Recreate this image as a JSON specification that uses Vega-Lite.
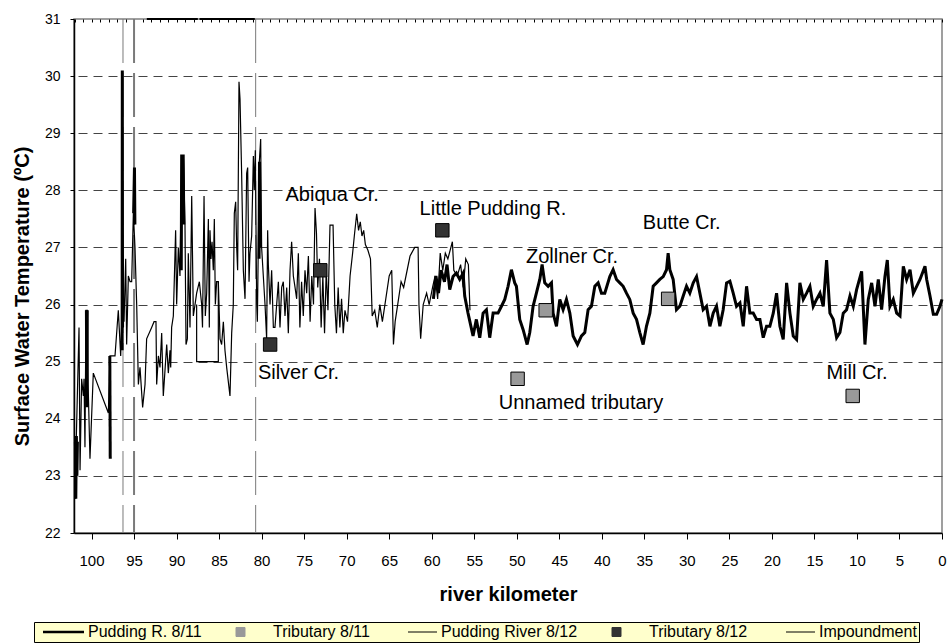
{
 "$schema": "https://vega.github.io/schema/vega-lite/v6.json",
 "width": 868, "height": 514,
 "autosize": {"type": "none"},
 "padding": {"left": 74, "top": 19, "right": 6, "bottom": 111},
 "background": "white",
 "config": {"font": "Liberation Sans", "view": {"stroke": "#808080", "strokeWidth": 1.5}},
 "datasets": {
  "damsThin": [{"k": 96.3}, {"k": 80.7}],
  "damThick": [{"k": 95.0}],
  "imp": [{"g":1,"k":93.5,"t":31},{"g":1,"k":87.5,"t":31},{"g":2,"k":87.3,"t":31},{"g":2,"k":80.8,"t":31}],
  "trib811": [{"name":"Zollner Cr.","k":46.6,"t":25.9},{"name":"Unnamed tributary","k":49.9,"t":24.7},{"name":"Butte Cr.","k":32.2,"t":26.1},{"name":"Mill Cr.","k":10.5,"t":24.4}],
  "trib812": [{"name":"Silver Cr.","k":79.0,"t":25.3},{"name":"Abiqua Cr.","k":73.1,"t":26.6},{"name":"Little Pudding R.","k":58.75,"t":27.3}],
  "labels": [{"name":"Abiqua Cr.","k":71.7,"t":27.92},{"name":"Little Pudding R.","k":52.8,"t":27.68},{"name":"Zollner Cr.","k":43.5,"t":26.84},{"name":"Butte Cr.","k":30.6,"t":27.43},{"name":"Unnamed tributary","k":42.45,"t":24.28},{"name":"Mill Cr.","k":10.0,"t":24.81},{"name":"Silver Cr.","k":75.67,"t":24.81}],
  "r812": [
{"g":1,"k":102.0,"t":23.6},{"g":1,"k":101.9,"t":22.6},{"g":1,"k":101.8,"t":23.6},{"g":1,"k":101.47,"t":25.6},{"g":1,"k":101.35,"t":23.1},{"g":1,"k":101.16,"t":24.7},{"g":1,"k":100.96,"t":24.4},{"g":1,"k":100.88,"t":24.7},{"g":1,"k":100.77,"t":23.5},{"g":1,"k":100.65,"t":25.9},{"g":1,"k":100.49,"t":25.9},{"g":1,"k":100.4,"t":24.6},{"g":1,"k":100.18,"t":23.3},{"g":1,"k":99.79,"t":24.8},{"g":1,"k":98.02,"t":24.1},{"g":1,"k":97.83,"t":25.1},{"g":1,"k":97.24,"t":25.1},{"g":1,"k":96.85,"t":25.9},{"g":1,"k":96.57,"t":25.1},{"g":1,"k":96.38,"t":26.0},{"g":1,"k":96.18,"t":25.7},{"g":1,"k":95.98,"t":26.8},{"g":1,"k":95.87,"t":25.3},{"g":1,"k":95.67,"t":26.5},{"g":1,"k":95.47,"t":26.4},{"g":1,"k":95.28,"t":26.4},{"g":1,"k":95.08,"t":27.6},{"g":1,"k":94.89,"t":27.0},{"g":1,"k":94.69,"t":26.0},{"g":1,"k":94.49,"t":24.6},{"g":1,"k":94.30,"t":24.9},{"g":1,"k":93.99,"t":24.2},{"g":1,"k":93.71,"t":24.6},{"g":1,"k":93.52,"t":25.4},{"g":1,"k":92.93,"t":25.6},{"g":1,"k":92.65,"t":25.7},{"g":1,"k":92.42,"t":25.7},{"g":1,"k":92.34,"t":24.6},{"g":1,"k":92.14,"t":25.1},{"g":1,"k":91.95,"t":24.9},{"g":1,"k":91.75,"t":25.5},{"g":1,"k":91.56,"t":24.4},{"g":1,"k":91.16,"t":25.3},{"g":1,"k":90.97,"t":24.8},{"g":1,"k":90.77,"t":25.2},{"g":1,"k":90.69,"t":24.9},{"g":1,"k":90.58,"t":25.6},{"g":1,"k":90.38,"t":25.8},{"g":1,"k":90.11,"t":27.3},{"g":1,"k":89.99,"t":26.0},{"g":1,"k":89.79,"t":27.0},{"g":1,"k":89.60,"t":26.5},{"g":1,"k":89.40,"t":28.6},{"g":1,"k":89.20,"t":28.6},{"g":1,"k":89.01,"t":27.4},{"g":1,"k":88.89,"t":25.3},{"g":1,"k":88.73,"t":25.4},{"g":1,"k":88.62,"t":26.9},{"g":1,"k":88.42,"t":25.6},{"g":1,"k":88.22,"t":27.9},{"g":1,"k":88.03,"t":25.8},{"g":1,"k":87.83,"t":26.0},{"g":1,"k":87.64,"t":26.2},{"g":1,"k":87.32,"t":26.4},{"g":1,"k":87.05,"t":26.0},{"g":1,"k":86.95,"t":25.6},{"g":1,"k":86.77,"t":27.9},{"g":1,"k":86.62,"t":25.8},{"g":1,"k":86.46,"t":26.2},{"g":1,"k":86.26,"t":27.5},{"g":1,"k":86.15,"t":25.6},{"g":1,"k":86.07,"t":27.3},{"g":1,"k":85.95,"t":26.8},{"g":1,"k":85.83,"t":27.1},{"g":1,"k":85.68,"t":26.6},{"g":1,"k":85.56,"t":27.5},{"g":1,"k":85.44,"t":26.0},{"g":1,"k":85.29,"t":26.4},{"g":1,"k":85.09,"t":26.4},{"g":1,"k":84.89,"t":25.4},{"g":1,"k":84.70,"t":25.3},{"g":1,"k":84.50,"t":25.7},{"g":1,"k":84.31,"t":25.2},{"g":1,"k":84.11,"t":24.9},{"g":1,"k":83.72,"t":24.4},{"g":1,"k":83.52,"t":25.5},{"g":1,"k":83.33,"t":26.0},{"g":1,"k":83.21,"t":27.6},{"g":1,"k":83.05,"t":27.8},{"g":1,"k":82.93,"t":27.0},{"g":1,"k":82.82,"t":26.6},{"g":1,"k":82.66,"t":29.9},{"g":1,"k":82.54,"t":29.6},{"g":1,"k":82.35,"t":28.3},{"g":1,"k":82.15,"t":26.6},{"g":1,"k":81.95,"t":26.1},{"g":1,"k":81.76,"t":28.3},{"g":1,"k":81.64,"t":28.4},{"g":1,"k":81.48,"t":26.4},{"g":1,"k":81.37,"t":26.9},{"g":1,"k":81.17,"t":27.2},{"g":1,"k":80.97,"t":28.6},{"g":1,"k":80.86,"t":28.0},{"g":1,"k":80.74,"t":28.7},{"g":1,"k":80.58,"t":26.0},{"g":1,"k":80.50,"t":25.7},{"g":1,"k":80.27,"t":28.5},{"g":1,"k":80.11,"t":28.9},{"g":1,"k":80.00,"t":27.0},{"g":1,"k":79.80,"t":26.5},{"g":1,"k":79.60,"t":26.0},{"g":1,"k":79.41,"t":25.4},{"g":1,"k":79.29,"t":27.3},{"g":1,"k":79.21,"t":26.7},{"g":1,"k":79.01,"t":26.0},{"g":1,"k":78.82,"t":26.6},{"g":1,"k":78.62,"t":25.6},{"g":1,"k":78.43,"t":25.6},{"g":1,"k":78.23,"t":26.0},{"g":1,"k":78.03,"t":26.4},{"g":1,"k":77.84,"t":25.6},{"g":1,"k":77.64,"t":26.3},{"g":1,"k":77.45,"t":26.4},{"g":1,"k":77.25,"t":25.8},{"g":1,"k":77.05,"t":26.3},{"g":1,"k":76.86,"t":25.5},{"g":1,"k":76.66,"t":26.6},{"g":1,"k":76.47,"t":27.1},{"g":1,"k":76.27,"t":26.5},{"g":1,"k":76.07,"t":26.3},{"g":1,"k":75.88,"t":26.1},{"g":1,"k":75.68,"t":26.9},
{"g":1,"k":75.5,"t":25.6},{"g":1,"k":75.3,"t":26.4},{"g":1,"k":75.1,"t":25.8},{"g":1,"k":74.9,"t":26.6},{"g":1,"k":74.7,"t":26.2},{"g":1,"k":74.5,"t":26.85},{"g":1,"k":74.3,"t":25.7},{"g":1,"k":74.1,"t":26.5},{"g":1,"k":73.9,"t":26.0},{"g":1,"k":73.72,"t":27.69},{"g":1,"k":73.55,"t":27.25},{"g":1,"k":73.4,"t":26.3},{"g":1,"k":73.2,"t":26.8},{"g":1,"k":73.0,"t":25.6},{"g":1,"k":72.8,"t":26.5},{"g":1,"k":72.6,"t":25.5},{"g":1,"k":72.4,"t":26.6},{"g":1,"k":72.2,"t":25.9},{"g":1,"k":71.96,"t":27.39},{"g":1,"k":71.6,"t":27.39},{"g":1,"k":71.4,"t":26.0},{"g":1,"k":71.2,"t":25.5},{"g":1,"k":71.0,"t":26.3},{"g":1,"k":70.8,"t":25.6},{"g":1,"k":70.6,"t":26.1},{"g":1,"k":70.4,"t":25.5},{"g":1,"k":70.2,"t":25.9},{"g":1,"k":69.9,"t":25.7},{"g":1,"k":69.6,"t":26.5},{"g":1,"k":69.3,"t":26.9},{"g":1,"k":69.1,"t":27.2},{"g":1,"k":68.82,"t":27.59},{"g":1,"k":68.6,"t":27.3},{"g":1,"k":68.4,"t":27.45},{"g":1,"k":68.2,"t":27.2},{"g":1,"k":68.0,"t":27.3},{"g":1,"k":67.8,"t":27.05},{"g":1,"k":67.5,"t":26.95},{"g":1,"k":67.2,"t":26.8},{"g":1,"k":67.0,"t":25.8},{"g":1,"k":66.7,"t":25.9},{"g":1,"k":66.4,"t":25.6},{"g":1,"k":66.1,"t":26.0},{"g":1,"k":65.8,"t":25.7},{"g":1,"k":65.5,"t":26.0},{"g":1,"k":65.0,"t":26.5},{"g":1,"k":64.7,"t":26.6},{"g":1,"k":64.5,"t":25.3},{"g":1,"k":64.3,"t":25.7},{"g":1,"k":64.0,"t":26.0},{"g":1,"k":63.6,"t":26.4},{"g":1,"k":63.3,"t":26.3},{"g":1,"k":62.55,"t":26.85},{"g":1,"k":62.0,"t":27.0},{"g":1,"k":61.6,"t":27.0},{"g":1,"k":61.5,"t":26.0},{"g":1,"k":61.3,"t":25.4},{"g":1,"k":61.0,"t":26.0},{"g":1,"k":60.6,"t":26.2},{"g":1,"k":60.3,"t":26.0},{"g":1,"k":59.9,"t":26.3},{"g":1,"k":59.6,"t":26.5},{"g":1,"k":59.3,"t":26.1},{"g":1,"k":59.0,"t":26.9},{"g":1,"k":58.7,"t":26.6},{"g":1,"k":58.4,"t":26.9},{"g":1,"k":58.1,"t":26.8},{"g":1,"k":57.57,"t":27.1},{"g":1,"k":57.4,"t":26.6},{"g":1,"k":57.0,"t":26.5},{"g":1,"k":56.6,"t":26.7},{"g":1,"k":56.3,"t":26.3},{"g":1,"k":56.0,"t":26.8},{"g":1,"k":55.69,"t":26.7},{"g":1,"k":55.5,"t":25.9},
{"g":2,"k":87.64,"t":26.0},{"g":2,"k":87.64,"t":25.0},{"g":2,"k":85.09,"t":25.0},{"g":2,"k":85.09,"t":26.4}
  ],
  "r811": [
{"g":1,"k":101.85,"t":22.6},{"g":1,"k":101.78,"t":23.7},{"g":1,"k":101.72,"t":23.0},{"g":1,"k":101.66,"t":23.6},
{"g":2,"k":100.6,"t":25.9},{"g":2,"k":100.55,"t":24.2},{"g":2,"k":100.5,"t":25.9},
{"g":3,"k":97.85,"t":25.1},{"g":3,"k":97.8,"t":23.3},
{"g":4,"k":96.4,"t":25.2},{"g":4,"k":96.38,"t":30.1},{"g":4,"k":96.35,"t":25.6},
{"g":5,"k":95.05,"t":27.6},{"g":5,"k":94.95,"t":28.4},{"g":5,"k":94.9,"t":27.4},
{"g":6,"k":89.45,"t":26.6},{"g":6,"k":89.4,"t":28.6},{"g":6,"k":89.22,"t":28.6},{"g":6,"k":89.15,"t":27.4},
{"g":7,"k":80.3,"t":26.8},{"g":7,"k":80.25,"t":28.5},{"g":7,"k":80.2,"t":27.0},
{"g":8,"k":59.8,"t":26.1},{"g":8,"k":59.5,"t":26.5},{"g":8,"k":59.2,"t":26.2},{"g":8,"k":58.9,"t":26.6},{"g":8,"k":58.5,"t":26.4},{"g":8,"k":58.2,"t":26.7},{"g":8,"k":57.88,"t":26.26},{"g":8,"k":57.49,"t":26.49},{"g":8,"k":57.10,"t":26.55},{"g":8,"k":56.71,"t":26.44},{"g":8,"k":56.31,"t":26.55},{"g":8,"k":56.12,"t":26.15},{"g":8,"k":55.73,"t":25.85},{"g":8,"k":55.14,"t":25.45},{"g":8,"k":54.75,"t":25.74},{"g":8,"k":54.35,"t":25.42},{"g":8,"k":53.96,"t":25.85},{"g":8,"k":53.57,"t":25.91},{"g":8,"k":53.18,"t":25.42},{"g":8,"k":52.78,"t":25.85},{"g":8,"k":52.20,"t":25.85},{"g":8,"k":51.80,"t":25.97},{"g":8,"k":51.41,"t":26.09},{"g":8,"k":51.02,"t":26.32},{"g":8,"k":50.63,"t":26.61},{"g":8,"k":50.24,"t":26.38},{"g":8,"k":50.04,"t":26.32},{"g":8,"k":49.65,"t":25.74},{"g":8,"k":49.25,"t":25.56},{"g":8,"k":48.78,"t":25.30},{"g":8,"k":48.47,"t":25.51},{"g":8,"k":48.08,"t":25.97},{"g":8,"k":47.69,"t":26.20},{"g":8,"k":47.29,"t":26.44},{"g":8,"k":47.02,"t":26.70},{"g":8,"k":46.71,"t":26.38},{"g":8,"k":46.31,"t":26.32},{"g":8,"k":45.92,"t":26.38},{"g":8,"k":45.73,"t":25.85},{"g":8,"k":45.33,"t":25.62},{"g":8,"k":44.94,"t":26.09},{"g":8,"k":44.55,"t":25.91},{"g":8,"k":44.16,"t":26.09},{"g":8,"k":43.76,"t":25.85},{"g":8,"k":43.37,"t":25.45},{"g":8,"k":42.86,"t":25.30},{"g":8,"k":42.39,"t":25.45},{"g":8,"k":42.0,"t":25.51},{"g":8,"k":41.61,"t":25.91},{"g":8,"k":41.22,"t":25.97},{"g":8,"k":40.82,"t":26.32},{"g":8,"k":40.43,"t":26.38},{"g":8,"k":40.04,"t":26.20},{"g":8,"k":39.65,"t":26.20},{"g":8,"k":39.06,"t":26.49},{"g":8,"k":38.67,"t":26.61},{"g":8,"k":38.27,"t":26.44},{"g":8,"k":37.88,"t":26.38},{"g":8,"k":37.49,"t":26.32},{"g":8,"k":37.10,"t":26.20},{"g":8,"k":36.71,"t":26.09},{"g":8,"k":36.31,"t":25.85},{"g":8,"k":35.92,"t":25.74},{"g":8,"k":35.53,"t":25.51},{"g":8,"k":35.14,"t":25.30},{"g":8,"k":34.75,"t":25.62},{"g":8,"k":34.35,"t":25.85},{"g":8,"k":33.96,"t":26.32},{"g":8,"k":33.57,"t":26.38},{"g":8,"k":33.18,"t":26.44},{"g":8,"k":32.78,"t":26.49},{"g":8,"k":32.39,"t":26.61},{"g":8,"k":32.20,"t":26.90},{"g":8,"k":32.0,"t":26.61},{"g":8,"k":31.61,"t":26.44},{"g":8,"k":31.22,"t":25.91},{"g":8,"k":30.82,"t":25.97},{"g":8,"k":30.43,"t":26.15},{"g":8,"k":30.04,"t":26.32},{"g":8,"k":29.65,"t":26.20},{"g":8,"k":29.25,"t":26.38},{"g":8,"k":28.86,"t":26.49},{"g":8,"k":28.47,"t":26.20},{"g":8,"k":28.08,"t":25.91},{"g":8,"k":27.69,"t":25.97},{"g":8,"k":27.29,"t":25.62},{"g":8,"k":26.90,"t":25.85},{"g":8,"k":26.51,"t":25.97},{"g":8,"k":26.12,"t":25.62},{"g":8,"k":25.73,"t":25.91},{"g":8,"k":25.33,"t":26.38},{"g":8,"k":24.94,"t":26.41},{"g":8,"k":24.55,"t":26.20},{"g":8,"k":24.16,"t":25.97},{"g":8,"k":23.76,"t":26.03},{"g":8,"k":23.37,"t":25.62},{"g":8,"k":22.98,"t":26.32},{"g":8,"k":22.59,"t":25.85},{"g":8,"k":22.20,"t":25.85},{"g":8,"k":21.80,"t":25.74},{"g":8,"k":21.41,"t":25.74},{"g":8,"k":21.02,"t":25.42},{"g":8,"k":20.63,"t":25.62},{"g":8,"k":20.24,"t":25.62},{"g":8,"k":19.84,"t":25.85},{"g":8,"k":19.45,"t":26.20},{"g":8,"k":19.06,"t":25.62},{"g":8,"k":18.67,"t":25.39},{"g":8,"k":18.27,"t":26.38},{"g":8,"k":17.88,"t":25.85},{"g":8,"k":17.49,"t":25.45},{"g":8,"k":17.10,"t":25.39},{"g":8,"k":16.71,"t":26.38},{"g":8,"k":16.31,"t":26.09},{"g":8,"k":15.92,"t":26.20},{"g":8,"k":15.53,"t":26.32},{"g":8,"k":15.14,"t":25.97},{"g":8,"k":14.75,"t":26.09},{"g":8,"k":14.35,"t":26.20},{"g":8,"k":13.96,"t":25.97},{"g":8,"k":13.57,"t":26.78},{"g":8,"k":13.18,"t":25.85},{"g":8,"k":12.78,"t":25.74},{"g":8,"k":12.39,"t":25.42},{"g":8,"k":12.0,"t":25.51},{"g":8,"k":11.61,"t":25.85},{"g":8,"k":11.22,"t":25.91},{"g":8,"k":10.82,"t":26.15},{"g":8,"k":10.43,"t":25.97},{"g":8,"k":10.04,"t":26.26},{"g":8,"k":9.45,"t":26.58},{"g":8,"k":9.06,"t":25.30},{"g":8,"k":8.67,"t":26.09},{"g":8,"k":8.27,"t":26.38},{"g":8,"k":7.88,"t":25.97},{"g":8,"k":7.49,"t":26.44},{"g":8,"k":7.10,"t":25.91},{"g":8,"k":6.71,"t":26.49},{"g":8,"k":6.43,"t":26.78},{"g":8,"k":6.12,"t":25.97},{"g":8,"k":5.73,"t":26.09},{"g":8,"k":5.33,"t":25.85},{"g":8,"k":4.94,"t":25.80},{"g":8,"k":4.55,"t":26.67},{"g":8,"k":4.16,"t":26.44},{"g":8,"k":3.76,"t":26.61},{"g":8,"k":3.37,"t":26.20},{"g":8,"k":2.98,"t":26.32},{"g":8,"k":2.59,"t":26.44},{"g":8,"k":2.0,"t":26.67},{"g":8,"k":1.80,"t":26.44},{"g":8,"k":1.41,"t":26.15},{"g":8,"k":1.02,"t":25.83},{"g":8,"k":0.63,"t":25.83},{"g":8,"k":0.24,"t":25.97},{"g":8,"k":0.0,"t":26.09}
  ]
 },
 "encoding": {
  "x": {"field": "k", "type": "quantitative", "title": "river kilometer",
   "scale": {"domain": [0, 102.06], "reverse": true, "nice": false, "zero": false},
   "axis": {"values": [0,1,2,3,4,5,6,7,8,9,10,11,12,13,14,15,16,17,18,19,20,21,22,23,24,25,26,27,28,29,30,31,32,33,34,35,36,37,38,39,40,41,42,43,44,45,46,47,48,49,50,51,52,53,54,55,56,57,58,59,60,61,62,63,64,65,66,67,68,69,70,71,72,73,74,75,76,77,78,79,80,81,82,83,84,85,86,87,88,89,90,91,92,93,94,95,96,97,98,99,100,101,102],
    "format": "d",
    "labelExpr": "datum.value % 5 === 0 ? datum.label : ''", "labelOverlap": false, "labelFlush": false,
    "labelFontSize": 15, "labelColor": "black", "labelPadding": 14,
    "tickSize": 6, "tickColor": "black", "tickWidth": 1,
    "tickOpacity": {"condition": {"test": "datum.value % 5 === 0", "value": 1}, "value": 0},
    "grid": true, "gridColor": "black", "gridDash": [3, 2000], "gridWidth": 1, "gridOpacity": 1,
    "domainColor": "black", "domainWidth": 1.5,
    "titleFontSize": 20, "titleFontWeight": "bold", "titleColor": "black", "titlePadding": 16}},
  "y": {"field": "t", "type": "quantitative", "title": "Surface Water Temperature (ºC)",
   "scale": {"domain": [22, 31], "nice": false, "zero": false},
   "axis": {"values": [22,22.5,23,23.5,24,24.5,25,25.5,26,26.5,27,27.5,28,28.5,29,29.5,30,30.5,31],
    "format": "d",
    "labelExpr": "datum.value % 1 === 0 ? datum.label : ''", "labelOverlap": false, "labelFlush": false,
    "labelFontSize": 14, "labelColor": "black", "labelPadding": 10,
    "tickSize": 4, "tickColor": "black",
    "grid": true, "gridColor": "#444444", "gridDash": [9, 6], "gridWidth": 1,
    "gridOpacity": {"condition": {"test": "datum.value % 1 === 0 && datum.value > 22 && datum.value < 31", "value": 1}, "value": 0},
    "domainColor": "black", "domainWidth": 1.5,
    "titleFontSize": 20, "titleFontWeight": "bold", "titleColor": "black", "titlePadding": 12, "titleY": 277}}
 },
 "layer": [
  {"data": {"name": "damsThin"}, "mark": {"type": "rule", "color": "#7a7a7a", "strokeWidth": 1, "strokeDash": [44, 10]},
   "encoding": {"y": {"value": 0}, "y2": {"value": "height"}}},
  {"data": {"name": "damThick"}, "mark": {"type": "rule", "color": "#7a7a7a", "strokeWidth": 2, "strokeDash": [44, 10]},
   "encoding": {"y": {"value": 0}, "y2": {"value": "height"}}},
  {"data": {"name": "r812"}, "mark": {"type": "line", "strokeWidth": 1.2},
   "encoding": {"detail": {"field": "g", "type": "nominal"}, "order": {"value": null},
    "color": {"datum": "Pudding River 8/12",
     "scale": {"domain": ["Pudding R. 8/11", "Tributary 8/11", "Pudding River 8/12", "Tributary 8/12", "Impoundment"], "range": ["black", "#999999", "black", "#333333", "black"]},
     "legend": {"title": null, "orient": "none", "legendX": -40, "legendY": 603, "direction": "horizontal",
      "fillColor": "#FFFFCC", "strokeColor": "black", "padding": 2,
      "labelFontSize": 16, "labelColor": "black", "labelFont": "Liberation Sans", "labelOffset": 36,
      "symbolSize": 100, "columnPadding": 19, "symbolStrokeWidth": 1,
      "encode": {"symbols": {"update": {
        "shape": {"signal": "datum.value === 'Tributary 8/11' || datum.value === 'Tributary 8/12' ? 'M1.4,-0.9H3.2V0.9H1.4Z' : (datum.value === 'Pudding R. 8/11' ? 'M-0.2,0H8' : 'M2.2,0H8')"},
        "fill": {"signal": "datum.value === 'Tributary 8/11' ? '#999999' : (datum.value === 'Tributary 8/12' ? '#333333' : 'transparent')"},
        "stroke": {"value": "black"},
        "strokeWidth": {"signal": "datum.value === 'Pudding R. 8/11' ? 2.5 : 1"},
        "opacity": {"value": 1}, "fillOpacity": {"value": 1}, "strokeOpacity": {"value": 1}}}}}}}},
  {"data": {"name": "r811"}, "mark": {"type": "line", "strokeWidth": 3},
   "encoding": {"detail": {"field": "g", "type": "nominal"}, "order": {"value": null}, "color": {"datum": "Pudding R. 8/11"}}},
  {"data": {"name": "imp"}, "mark": {"type": "line", "strokeWidth": 2},
   "encoding": {"detail": {"field": "g", "type": "nominal"}, "color": {"datum": "Impoundment"}}},
  {"data": {"name": "trib811"}, "mark": {"type": "point", "shape": "square", "filled": true, "size": 180, "stroke": "black", "strokeWidth": 1, "opacity": 1},
   "encoding": {"color": {"datum": "Tributary 8/11"}}},
  {"data": {"name": "trib812"}, "mark": {"type": "point", "shape": "square", "filled": true, "size": 180, "stroke": "black", "strokeWidth": 1, "opacity": 1},
   "encoding": {"color": {"datum": "Tributary 8/12"}}},
  {"data": {"name": "labels"}, "mark": {"type": "text", "fontSize": 20, "align": "center", "baseline": "middle", "color": "black"},
   "encoding": {"text": {"field": "name", "type": "nominal"}}}
 ]
}
